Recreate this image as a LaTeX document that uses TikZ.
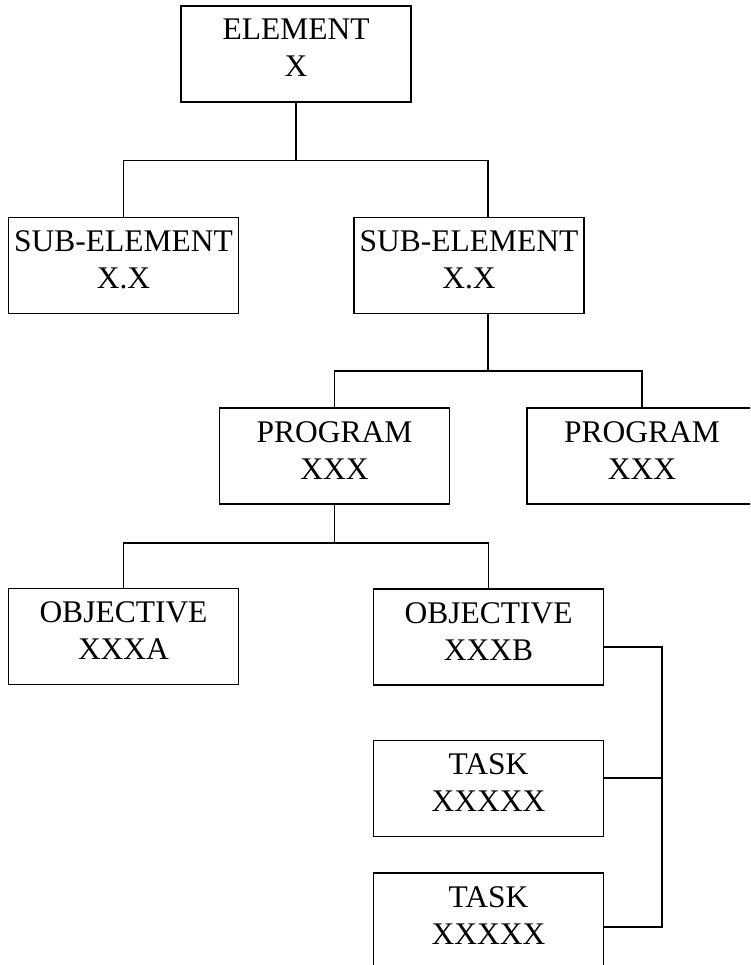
\documentclass[tikz,border=0pt]{standalone}
\usepackage{fontspec}
\setmainfont{Liberation Serif}
\usetikzlibrary{calc}
\newcommand{\boxtxt}[2]{\rule{0pt}{24pt}#1\\#2\rule[-15pt]{0pt}{15pt}}
\begin{document}
\begin{tikzpicture}[x=1pt,y=-1pt,
  box/.style={draw, line width=1.9pt, rectangle, inner sep=0pt,
    minimum width=230pt, minimum height=96pt, align=center,
    font=\fontsize{31.5}{37}\selectfont},
  wire/.style={draw, line width=1.9pt}]
\useasboundingbox (0,0) rectangle (750,965);
\clip (0,0) rectangle (750,965);
\fill[white] (0,0) rectangle (750,965);
% boxes
\node[box] (E)  at (296,54)     {\boxtxt{ELEMENT}{X}};
\node[box] (S1) at (123.5,265.5){\boxtxt{SUB-ELEMENT}{X.X}};
\node[box] (S2) at (469,265.5)  {\boxtxt{SUB-ELEMENT}{X.X}};
\node[box] (P1) at (334.5,456)  {\boxtxt{PROGRAM}{XXX}};
\node[box] (P2) at (642,456)    {\boxtxt{PROGRAM}{XXX}};
\node[box] (OA) at (123.5,636.5){\boxtxt{OBJECTIVE}{XXXA}};
\node[box] (OB) at (488.5,637)  {\boxtxt{OBJECTIVE}{XXXB}};
\node[box] (T1) at (488.5,788.5){\boxtxt{TASK}{XXXXX}};
\node[box] (T2) at (488.5,921)  {\boxtxt{TASK}{XXXXX}};
% junction points
\coordinate (j1) at (296,160.5);
\coordinate (j2) at (488,371);
\coordinate (j3) at (334.5,543);
\coordinate (s2t) at ($(S2.north)+(19,0)$);
\coordinate (s2b) at ($(S2.south)+(19,0)$);
\coordinate (obr) at ($(OB.east)+(0,10)$);
\coordinate (t1r) at ($(T1.east)+(0,-10.5)$);
\coordinate (t2r) at ($(T2.east)+(0,6)$);
\coordinate (r1) at (662,647);
\coordinate (r2) at (662,927);
% connectors
\draw[wire] (E.south) -- (j1);
\draw[wire] (S1.north) |- (j1) -| (s2t);
\draw[wire] (s2b) -- (j2);
\draw[wire] (P1.north) |- (j2) -| (P2.north);
\draw[wire] (P1.south) -- (j3);
\draw[wire] (OA.north) |- (j3) -| (OB.north);
\draw[wire] (obr) -- (r1) -- (r2) -- (t2r);
\draw[wire] (t1r) -- (t1r -| r1);
\end{tikzpicture}
\end{document}
